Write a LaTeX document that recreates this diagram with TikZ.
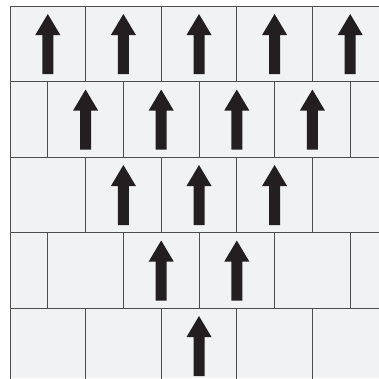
\documentclass[tikz,border=0pt]{standalone}
\definecolor{cellgray}{HTML}{F1F2F4}
\definecolor{inkblack}{HTML}{231F20}
\tikzset{
  gridline/.style={draw=inkblack!80, line width=1pt},
  uparrow/.style={fill=inkblack},
}
\newcommand{\cellw}{75.6}
\newcommand{\rowh}{75.5}

\begin{document}
\begin{tikzpicture}[x=1pt,y=-1pt]
\useasboundingbox (0,0) rectangle (379,378);
\fill[cellgray] (10,6) rectangle (379,378);
\begin{scope}
\clip (10,6) rectangle (379,378);
\foreach \r in {0,...,4} {
  \pgfmathsetmacro{\ytop}{6+\r*\rowh}
  \pgfmathsetmacro{\shift}{mod(\r,2)*\cellw/2}
  \draw[gridline] (10,\ytop) -- (379,\ytop);
  \foreach \k in {0,...,5} {
    \draw[gridline] ({10+\shift+\k*\cellw},\ytop) -- ++(0,\rowh);
  }
  % arrows, one fewer per row
  \pgfmathsetmacro{\n}{int(4-\r)}
  \foreach \j in {0,...,\n} {
    \pgfmathsetmacro{\x}{199+(\j-\n/2)*\cellw}
    \fill[uparrow] (\x,\ytop+8) -- ++(12.5,21) -- ++(-7,0) -- ++(0,39)
      -- ++(-11,0) -- ++(0,-39) -- ++(-7,0) -- cycle;
  }
}
\draw[gridline] (10,6) -- (10,378);
\end{scope}
\end{tikzpicture}
\end{document}
